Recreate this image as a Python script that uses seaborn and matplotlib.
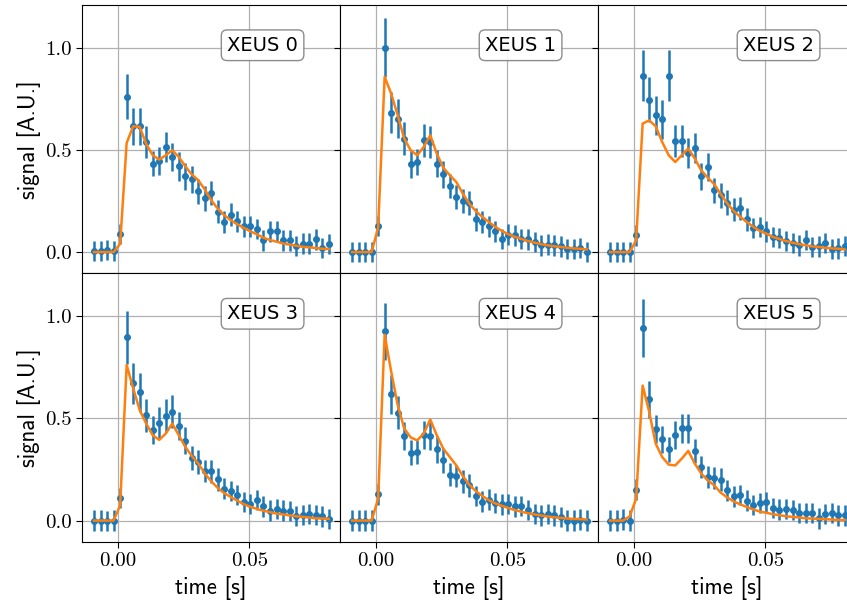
"""
XEUS detector signals: measured points with error bars and fitted model
"""
import numpy as np
import matplotlib
matplotlib.use("Agg")
import matplotlib.pyplot as plt
import seaborn as sns

# sample times [s]
time = -0.0091 + 0.00248 * np.arange(37)

labels = ["XEUS 0", "XEUS 1", "XEUS 2", "XEUS 3", "XEUS 4", "XEUS 5"]

# measured signal per detector
sig0 = [0.005, 0.005, 0.01, 0.005, 0.087, 0.76, 0.616, 0.616, 0.539, 0.433, 0.446, 0.515, 0.466,
        0.42, 0.371, 0.356, 0.297, 0.263, 0.289, 0.198, 0.147, 0.183, 0.150, 0.126, 0.126, 0.113,
        0.057, 0.101, 0.101, 0.057, 0.057, 0.029, 0.041, 0.041, 0.062, 0.021, 0.038]
sig1 = [0.0, 0.0, 0.0, 0.0, 0.127, 1.0, 0.683, 0.654, 0.556, 0.43, 0.441, 0.547, 0.539, 0.433,
        0.381, 0.324, 0.27, 0.25, 0.24, 0.16, 0.147, 0.126, 0.101, 0.065, 0.085, 0.082, 0.065,
        0.062, 0.049, 0.033, 0.036, 0.033, 0.028, 0.016, 0.016, 0.02, 0.0]
sig2 = [0.0, 0.0, 0.0, 0.0, 0.082, 0.864, 0.747, 0.67, 0.65, 0.864, 0.544, 0.544, 0.485, 0.51,
        0.371, 0.417, 0.302, 0.278, 0.242, 0.208, 0.214, 0.16, 0.119, 0.123, 0.101, 0.074, 0.07,
        0.054, 0.044, 0.033, 0.06, 0.025, 0.028, 0.044, 0.016, 0.018, 0.029]
sig3 = [0.0, 0.0, -0.003, 0.0, 0.11, 0.897, 0.672, 0.628, 0.516, 0.443, 0.48, 0.513, 0.533, 0.464,
        0.392, 0.307, 0.287, 0.243, 0.241, 0.202, 0.156, 0.144, 0.126, 0.09, 0.082, 0.102, 0.069,
        0.049, 0.057, 0.049, 0.048, 0.023, 0.028, 0.033, 0.026, 0.02, 0.008]
sig4 = [0.0, 0.0, 0.0, 0.0, 0.128, 0.926, 0.618, 0.528, 0.415, 0.333, 0.336, 0.418, 0.415, 0.349,
        0.295, 0.225, 0.218, 0.192, 0.172, 0.12, 0.093, 0.103, 0.087, 0.079, 0.082, 0.069, 0.07,
        0.052, 0.033, 0.025, 0.033, 0.025, 0.016, 0.0, 0.0, 0.005, 0.0]
sig5 = [0.0, 0.0, 0.005, 0.0, 0.152, 0.943, 0.593, 0.448, 0.398, 0.348, 0.418, 0.451, 0.451, 0.341,
        0.262, 0.213, 0.208, 0.2, 0.148, 0.118, 0.126, 0.098, 0.077, 0.085, 0.09, 0.062, 0.054,
        0.057, 0.052, 0.038, 0.038, 0.038, 0.011, 0.033, 0.038, 0.025, 0.025]

# uncertainties
err0 = [0.05, 0.05, 0.05, 0.05, 0.05, 0.11, 0.09, 0.09, 0.08, 0.06, 0.07, 0.075, 0.07, 0.07, 0.065,
        0.065, 0.06, 0.06, 0.06, 0.055, 0.055, 0.055, 0.05, 0.05, 0.05, 0.05, 0.05, 0.05, 0.05,
        0.05, 0.05, 0.05, 0.05, 0.05, 0.05, 0.05, 0.05]
err1 = [0.05, 0.05, 0.05, 0.05, 0.05, 0.145, 0.10, 0.095, 0.08, 0.065, 0.065, 0.08, 0.08, 0.065,
        0.065, 0.06, 0.06, 0.06, 0.06, 0.055, 0.055, 0.05, 0.05, 0.05, 0.05, 0.05, 0.05, 0.05,
        0.05, 0.05, 0.05, 0.05, 0.05, 0.05, 0.05, 0.05, 0.05]
err2 = [0.05, 0.05, 0.05, 0.05, 0.05, 0.125, 0.11, 0.095, 0.095, 0.125, 0.08, 0.08, 0.075, 0.075,
        0.065, 0.07, 0.06, 0.06, 0.06, 0.055, 0.055, 0.055, 0.05, 0.05, 0.05, 0.05, 0.05, 0.05,
        0.05, 0.05, 0.05, 0.05, 0.05, 0.05, 0.05, 0.05, 0.05]
err3 = [0.05, 0.05, 0.05, 0.05, 0.05, 0.13, 0.10, 0.095, 0.08, 0.07, 0.075, 0.08, 0.08, 0.07,
        0.065, 0.06, 0.06, 0.055, 0.055, 0.055, 0.05, 0.05, 0.05, 0.05, 0.05, 0.05, 0.05, 0.05,
        0.05, 0.05, 0.05, 0.05, 0.05, 0.05, 0.05, 0.05, 0.05]
err4 = [0.05, 0.05, 0.05, 0.05, 0.05, 0.14, 0.095, 0.08, 0.07, 0.06, 0.06, 0.07, 0.07, 0.065,
        0.06, 0.055, 0.055, 0.055, 0.055, 0.05, 0.05, 0.05, 0.05, 0.05, 0.05, 0.05, 0.05, 0.05,
        0.05, 0.05, 0.05, 0.05, 0.05, 0.05, 0.05, 0.05, 0.05]
err5 = [0.05, 0.05, 0.05, 0.05, 0.05, 0.14, 0.09, 0.07, 0.065, 0.06, 0.07, 0.07, 0.07, 0.06,
        0.055, 0.055, 0.055, 0.055, 0.05, 0.05, 0.05, 0.05, 0.05, 0.05, 0.05, 0.05, 0.05, 0.05,
        0.05, 0.05, 0.05, 0.05, 0.05, 0.05, 0.05, 0.05, 0.05]

# fitted model per detector
fit0 = [0.0, 0.0, 0.0, 0.0, 0.04, 0.534, 0.616, 0.613, 0.53, 0.474, 0.453, 0.474, 0.498, 0.466,
        0.42, 0.38, 0.351, 0.306, 0.253, 0.212, 0.18, 0.155, 0.136, 0.118, 0.101, 0.087, 0.07,
        0.059, 0.051, 0.042, 0.036, 0.031, 0.026, 0.023, 0.02, 0.016, 0.015]
fit1 = [0.0, 0.0, 0.0, 0.0, 0.12, 0.858, 0.776, 0.67, 0.556, 0.498, 0.474, 0.515, 0.572, 0.482,
        0.413, 0.376, 0.343, 0.286, 0.237, 0.2, 0.172, 0.147, 0.123, 0.103, 0.087, 0.074, 0.064,
        0.054, 0.046, 0.039, 0.033, 0.028, 0.025, 0.021, 0.018, 0.016, 0.013]
fit2 = [0.0, 0.0, 0.0, 0.0, 0.057, 0.629, 0.645, 0.616, 0.539, 0.474, 0.441, 0.474, 0.507, 0.458,
        0.4, 0.364, 0.332, 0.283, 0.237, 0.2, 0.172, 0.147, 0.123, 0.103, 0.09, 0.074, 0.064,
        0.054, 0.046, 0.039, 0.033, 0.028, 0.025, 0.021, 0.018, 0.016, 0.013]
fit3 = [0.0, 0.0, 0.0, 0.0, 0.074, 0.762, 0.648, 0.541, 0.475, 0.418, 0.395, 0.426, 0.475, 0.418,
        0.361, 0.316, 0.279, 0.23, 0.192, 0.159, 0.134, 0.115, 0.097, 0.08, 0.067, 0.057, 0.048,
        0.041, 0.034, 0.03, 0.025, 0.021, 0.018, 0.015, 0.011, 0.01, 0.008]
fit4 = [0.0, 0.0, 0.0, 0.0, 0.107, 0.91, 0.73, 0.566, 0.451, 0.407, 0.393, 0.426, 0.495, 0.418,
        0.352, 0.311, 0.27, 0.218, 0.175, 0.144, 0.12, 0.1, 0.084, 0.072, 0.061, 0.051, 0.043,
        0.036, 0.03, 0.025, 0.02, 0.016, 0.013, 0.01, 0.008, 0.007, 0.005]
fit5 = [0.0, 0.0, 0.0, 0.02, 0.107, 0.661, 0.533, 0.377, 0.311, 0.274, 0.27, 0.303, 0.341, 0.279,
        0.23, 0.197, 0.172, 0.136, 0.113, 0.093, 0.079, 0.066, 0.054, 0.044, 0.038, 0.031, 0.026,
        0.021, 0.018, 0.015, 0.011, 0.01, 0.008, 0.007, 0.005, 0.003, 0.003]

signals = [sig0, sig1, sig2, sig3, sig4, sig5]
errors = [err0, err1, err2, err3, err4, err5]
fits = [fit0, fit1, fit2, fit3, fit4, fit5]

plt.rcParams['font.family'] = 'cmr10'
plt.rcParams['axes.formatter.use_mathtext'] = True
plt.rcParams['mathtext.fontset'] = 'cm'

fig, axes = plt.subplots(2, 3, figsize=(8.47, 6.07), dpi=100, sharex=True, sharey=True)
fig.subplots_adjust(left=0.0968, right=1.0106, top=0.9918, bottom=0.1071, wspace=0, hspace=0)

for i, ax in enumerate(axes.flat):
    ax.grid(True, color='#b0b0b0', linewidth=0.9, zorder=0)
    ax.set_axisbelow(True)
    ax.errorbar(time, signals[i], yerr=errors[i], fmt='o', color='C0',
                markersize=4, elinewidth=1.8, capsize=0, zorder=2)
    sns.lineplot(x=time, y=fits[i], ax=ax, color='C1', linewidth=1.8, zorder=3)
    ax.text(0.70, 0.85, labels[i], transform=ax.transAxes, ha='center', va='center',
            fontsize=14, family='DejaVu Sans',
            bbox=dict(boxstyle='round,pad=0.3', facecolor='white', edgecolor='gray', alpha=0.9))
    ax.set_xlim(-0.0137, 0.0845)
    ax.set_ylim(-0.105, 1.21)
    ax.set_xticks([0.0, 0.05])
    ax.set_yticks([0.0, 0.5, 1.0])
    ax.tick_params(labelsize=15, length=4)
    ax.set_xlabel('')
    ax.set_ylabel('')
    for sp in ax.spines.values():
        sp.set_color('black')

axes[1, 0].xaxis.set_major_formatter(matplotlib.ticker.FormatStrFormatter('%.2f'))
axes[0, 0].yaxis.set_major_formatter(matplotlib.ticker.FormatStrFormatter('%.1f'))

for ax in axes[:, 0]:
    ax.set_ylabel('signal [A.U.]', fontsize=16.5, family='cmss10', labelpad=3)
for ax in axes[1, :]:
    ax.set_xlabel('time [s]', fontsize=16.5, family='cmss10')

fig.savefig('out.png', dpi=100)
